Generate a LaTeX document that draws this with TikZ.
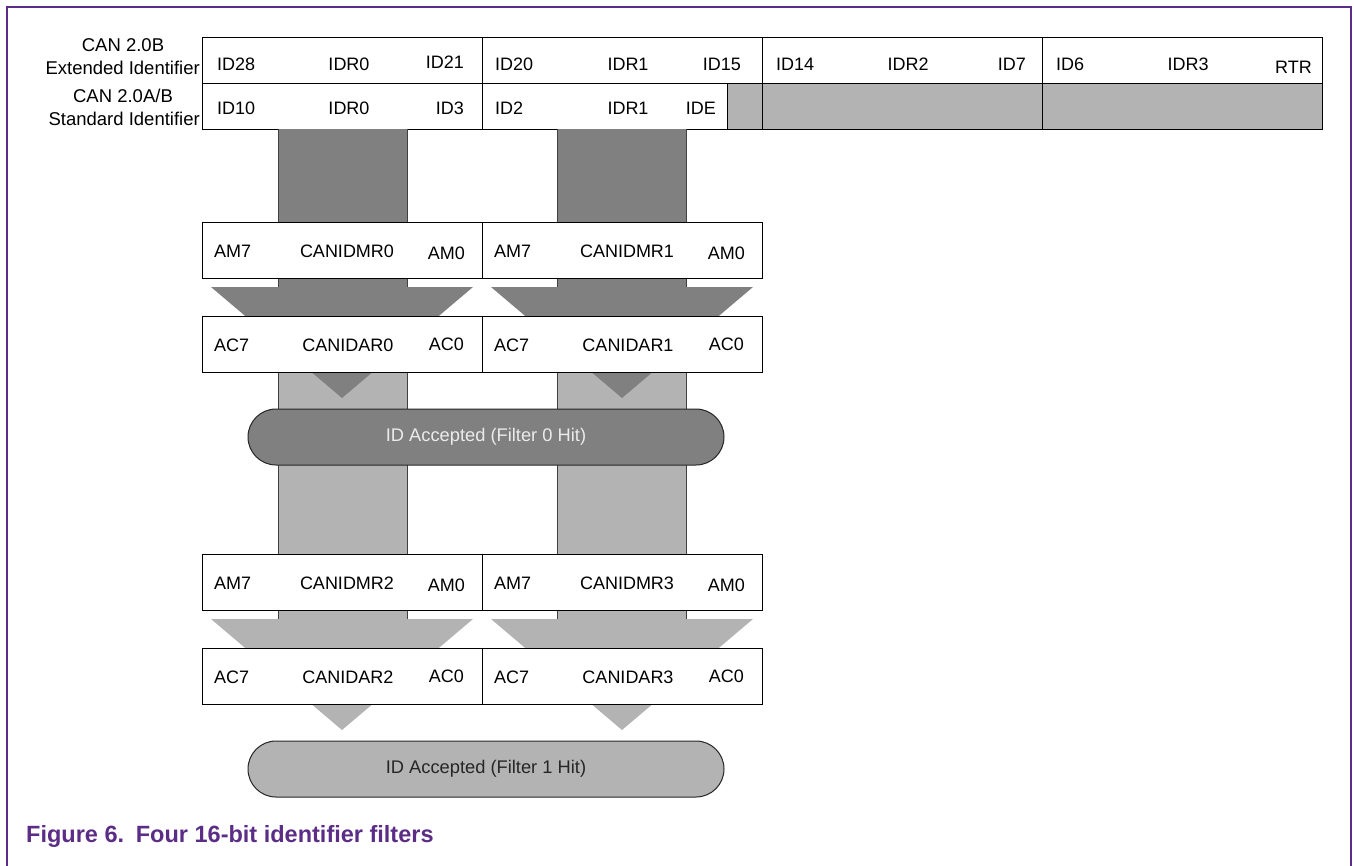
\documentclass[tikz,border=0pt]{standalone}
\usepackage{fontspec}
\setmainfont{Liberation Sans}
\usetikzlibrary{shapes.misc}
\definecolor{framec}{HTML}{5B2D86}
\definecolor{dk}{HTML}{808080}
\definecolor{lt}{HTML}{B3B3B3}
\begin{document}
\begin{tikzpicture}[x=1pt,y=-1pt,
  font=\fontsize{18}{21}\selectfont,
  txt/.style={inner sep=0pt},
  lbl/.style={inner sep=0pt, font=\fontsize{18.5}{21}\selectfont},
  regbox/.style={draw=black, line width=1pt, fill=white, minimum width=280pt, minimum height=56pt, anchor=north west, inner sep=0pt},
  pill/.style={draw=black!85, line width=1pt, rounded rectangle, minimum width=476pt, minimum height=56pt, inner sep=0pt, font=\fontsize{18.3}{21}\selectfont},
  barside/.style={draw=black!75, line width=1pt}]
\useasboundingbox (0,0) rectangle (1354,865);
% frame
\draw[framec, line width=2.6pt] (7,880) -- (7,7) -- (1351,7) -- (1351,880);

% ---------- identifier table ----------
\fill[lt] (727,83) rectangle (1322,129);
\draw[line width=1pt] (202,37) rectangle (1322,129);
\draw[line width=1pt] (202,83) -- (1322,83);
\foreach \x in {482,762,1042} \draw[line width=1pt] (\x,37) -- (\x,129);
\draw[line width=1pt] (727,83) -- (727,129);

\node[lbl] (l1) at (123,45) {CAN 2.0B};
\node[lbl, anchor=east] (l2) at (200,68) {Extended Identifier};
\node[lbl] (l3) at (123,96) {CAN 2.0A/B};
\node[lbl, anchor=east] (l4) at (200,119) {Standard Identifier};

\node[txt, anchor=west] (e1) at (217,64) {ID28};
\node[txt] (e2) at (349,64) {IDR0};
\node[txt, anchor=east] (e3) at (464,62) {ID21};
\node[txt, anchor=west] (e4) at (495,64) {ID20};
\node[txt] (e5) at (628,64) {IDR1};
\node[txt, anchor=east] (e6) at (741,64) {ID15};
\node[txt, anchor=west] (e7) at (776,64) {ID14};
\node[txt] (e8) at (908,64) {IDR2};
\node[txt, anchor=east] (e9) at (1026,64) {ID7};
\node[txt, anchor=west] (e10) at (1056,64) {ID6};
\node[txt] (e11) at (1188,64) {IDR3};
\node[txt, anchor=east] (e12) at (1312,67) {RTR};

\node[txt, anchor=west] (s1) at (217,108) {ID10};
\node[txt] (s2) at (349,108) {IDR0};
\node[txt, anchor=east] (s3) at (464,108) {ID3};
\node[txt, anchor=west] (s4) at (495,108) {ID2};
\node[txt] (s5) at (628,108) {IDR1};
\node[txt, anchor=east] (s6) at (716,108) {IDE};

% ---------- bars ----------
\foreach \x in {278,557} {
  \fill[lt] (\x,372) rectangle ++(129,254);
  \draw[barside] (\x,372) -- ++(0,254) (\x+129,372) -- ++(0,254);
  \fill[dk] (\x,129) rectangle ++(129,160);
  \draw[barside] (\x,129) -- ++(0,160) (\x+129,129) -- ++(0,160);
}
% arrow heads
\foreach \x in {211,491} {
  \fill[dk] (\x,287) -- ++(262,0) -- ++(-131,111) -- cycle;
  \fill[lt] (\x,619) -- ++(262,0) -- ++(-131,111) -- cycle;
}

% ---------- filter registers ----------
\node[regbox] (m0) at (202,222) {};
\node[regbox] (m1) at (482,222) {};
\node[regbox] (a0) at (202,316) {};
\node[regbox] (a1) at (482,316) {};
\node[regbox] (m2) at (202,554) {};
\node[regbox] (m3) at (482,554) {};
\node[regbox] (a2) at (202,648) {};
\node[regbox] (a3) at (482,648) {};

\foreach \n/\dx in {0/0,1/280} {
  \node[txt, anchor=west] (m\n L) at (214+\dx,251) {AM7};
  \node[txt] (m\n C) at (347+\dx,251) {CANIDMR\n};
  \node[txt, anchor=east] (m\n R) at (465+\dx,253) {AM0};
  \node[txt, anchor=west] (a\n L) at (214+\dx,345) {AC7};
  \node[txt] (a\n C) at (348+\dx,345) {CANIDAR\n};
  \node[txt, anchor=east] (a\n R) at (464+\dx,344) {AC0};
}
\foreach \n/\dx in {2/0,3/280} {
  \node[txt, anchor=west] (m\n L) at (214+\dx,583) {AM7};
  \node[txt] (m\n C) at (347+\dx,583) {CANIDMR\n};
  \node[txt, anchor=east] (m\n R) at (465+\dx,585) {AM0};
  \node[txt, anchor=west] (a\n L) at (214+\dx,677) {AC7};
  \node[txt] (a\n C) at (348+\dx,677) {CANIDAR\n};
  \node[txt, anchor=east] (a\n R) at (464+\dx,676) {AC0};
}

% ---------- accepted pills ----------
\node[pill, fill=dk, text=white!92!black] (hit0) at (486,437) {ID Accepted (Filter 0 Hit)};
\node[pill, fill=lt, text=black!85] (hit1) at (486,769) {ID Accepted (Filter 1 Hit)};

% ---------- caption ----------
\node[inner sep=0pt, anchor=west, text=framec, font=\bfseries\fontsize{23.5}{27}\selectfont] (cap) at (26,836) {Figure 6.\hspace{0.5em}Four 16-bit identifier filters};
\end{tikzpicture}
\end{document}
